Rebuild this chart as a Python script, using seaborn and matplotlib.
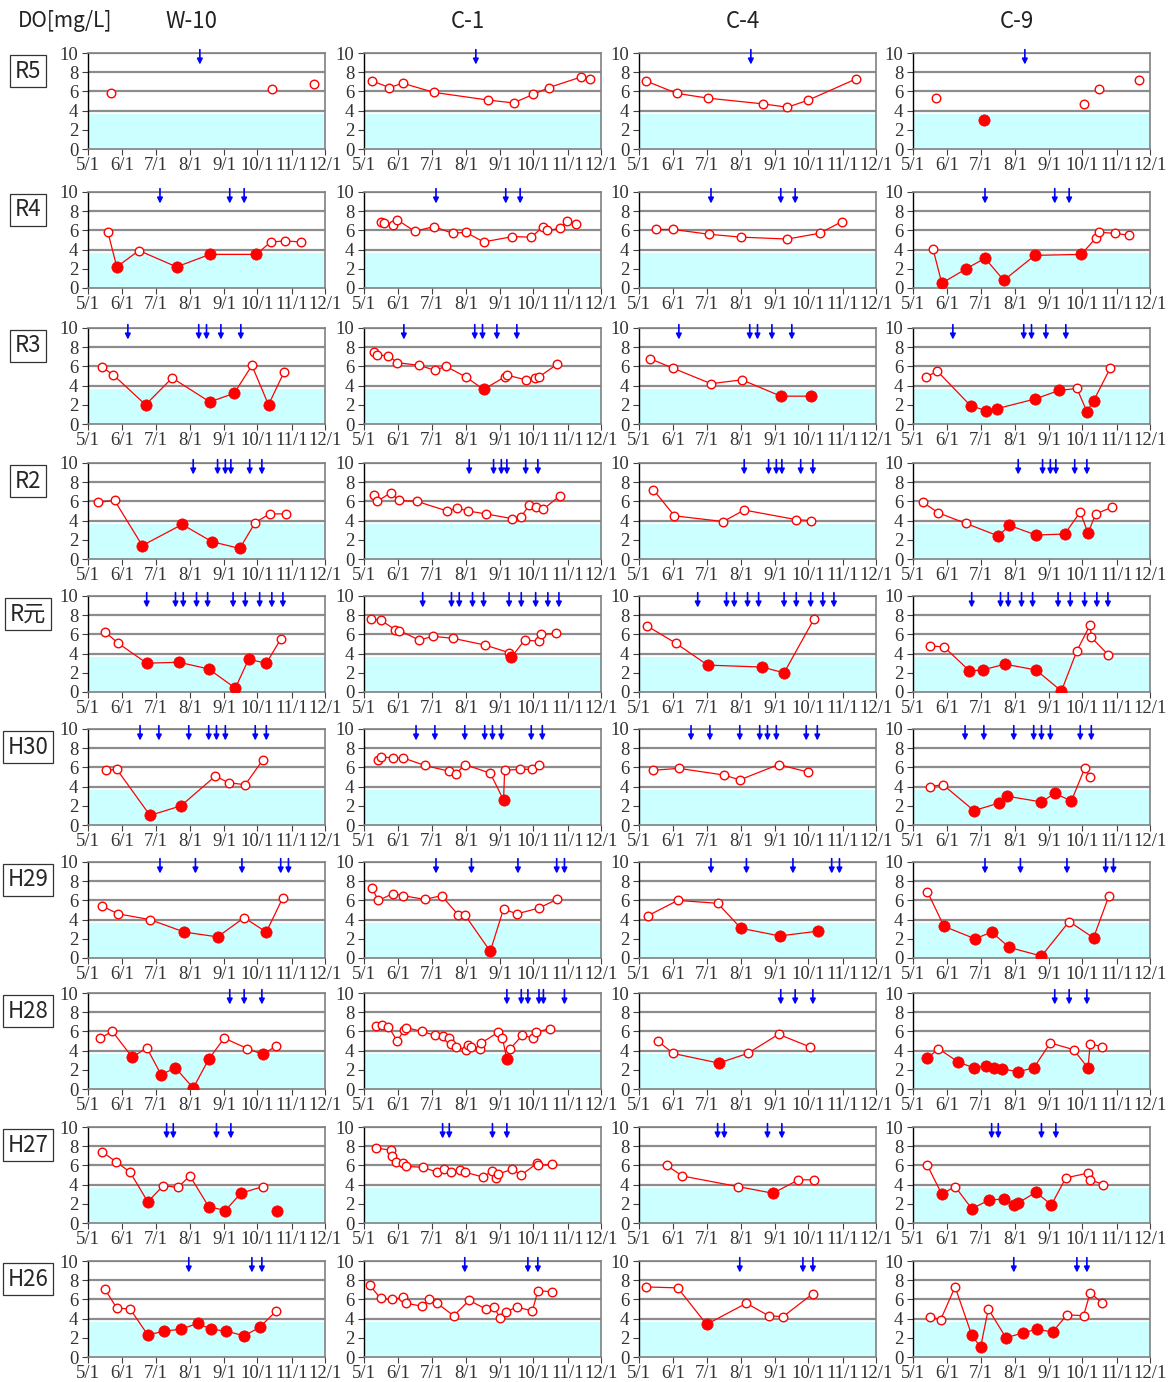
# DO seasonal change by site (W-10, C-1, C-4, C-9) for each survey year
import pandas as pd
import seaborn as sns
import matplotlib.pyplot as plt

# ---- data: sampling dates (M/D) and DO [mg/L]; None = missing (line break) ----
# R5
W10_R5_DATE = ['5/22', '8/1', '10/14', '11/1', '11/21']
W10_R5_DO = [5.8, None, 6.2, None, 6.8]
C1_R5_DATE = ['5/8', '5/24', '6/5', '7/3', '8/21', '9/13', '10/1', '10/15', '11/13', '11/21']
C1_R5_DO = [7.1, 6.4, 6.85, 5.9, 5.1, 4.8, 5.7, 6.4, 7.5, 7.3]
C4_R5_DATE = ['5/7', '6/4', '7/2', '8/21', '9/12', '10/1', '11/13']
C4_R5_DO = [7.1, 5.8, 5.3, 4.7, 4.35, 5.1, 7.3]
C9_R5_DATE = ['5/22', '6/15', '7/4', '8/1', '10/2', '10/9', '10/16', '11/1', '11/21']
C9_R5_DO = [5.3, None, 3.0, None, 4.7, None, 6.3, None, 7.2]
ARROW_R5 = ['8/10']

# R4
W10_R4_DATE = ['5/19', '5/27', '6/16', '7/20', '8/19', '9/30', '10/13', '10/26', '11/9']
W10_R4_DO = [5.8, 2.2, 3.9, 2.2, 3.5, 3.5, 4.8, 4.9, 4.8]
C1_R4_DATE = ['5/16', '5/19', '5/27', '5/31', '6/16', '7/3', '7/20', '8/1', '8/17', '9/12',
              '9/29', '10/10', '10/13', '10/25', '10/31', '11/8']
C1_R4_DO = [6.9, 6.8, 6.6, 7.1, 5.9, 6.4, 5.7, 5.8, 4.8, 5.35, 5.3, 6.4, 6.0, 6.2, 7.0, 6.7]
C4_R4_DATE = ['5/16', '6/1', '7/3', '8/1', '9/12', '10/11', '10/31']
C4_R4_DO = [6.1, 6.1, 5.6, 5.3, 5.1, 5.7, 6.9]
C9_R4_DATE = ['5/19', '5/27', '6/18', '7/5', '7/22', '8/19', '9/30', '10/13', '10/16', '10/30', '11/12']
C9_R4_DO = [4.1, 0.5, 2.0, 3.1, 0.8, 3.4, 3.5, 5.2, 5.8, 5.7, 5.5]
ARROW_R4 = ['7/5', '9/6', '9/19']

# R3
W10_R3_DATE = ['5/14', '5/24', '6/22', '7/16', '8/19', '9/10', '9/26', '10/11', '10/25']
W10_R3_DO = [5.9, 5.1, 2.0, 4.8, 2.3, 3.2, 6.1, 2.0, 5.4]
C1_R3_DATE = ['5/10', '5/13', '5/23', '5/31', '6/20', '7/4', '7/14', '8/1', '8/17', '9/5',
              '9/7', '9/24', '10/2', '10/6', '10/22']
C1_R3_DO = [7.5, 7.2, 7.1, 6.4, 6.1, 5.6, 6.0, 4.9, 3.6, 4.9, 5.1, 4.6, 4.8, 4.9, 6.2]
C4_R3_DATE = ['5/11', '6/1', '7/5', '8/2', '9/6', '10/3']
C4_R3_DO = [6.8, 5.8, 4.2, 4.6, 2.9, 2.9]
C9_R3_DATE = ['5/13', '5/23', '6/22', '7/6', '7/16', '8/19', '9/10', '9/26', '10/5', '10/11', '10/26']
C9_R3_DO = [4.9, 5.5, 1.9, 1.4, 1.6, 2.6, 3.5, 3.7, 1.3, 2.4, 5.8]
ARROW_R3 = ['6/6', '8/9', '8/16', '8/29', '9/16']

# R2
W10_R2_DATE = ['5/10', '5/25', '6/19', '7/25', '8/21', '9/15', '9/29', '10/12', '10/27']
W10_R2_DO = [5.9, 6.1, 1.4, 3.6, 1.8, 1.1, 3.8, 4.7, 4.7]
C1_R2_DATE = ['5/10', '5/13', '5/25', '6/2', '6/18', '7/15', '7/24', '8/3', '8/19', '9/12',
              '9/20', '9/27', '10/3', '10/10', '10/25']
C1_R2_DO = [6.7, 6.0, 6.9, 6.1, 6.0, 5.0, 5.3, 5.0, 4.7, 4.2, 4.4, 5.6, 5.4, 5.2, 6.6]
C4_R2_DATE = ['5/14', '6/2', '7/16', '8/4', '9/20', '10/3']
C4_R2_DO = [7.2, 4.5, 3.9, 5.1, 4.1, 4.0]
C9_R2_DATE = ['5/10', '5/24', '6/18', '7/17', '7/27', '8/20', '9/15', '9/29', '10/6', '10/13', '10/28']
C9_R2_DO = [5.9, 4.8, 3.7, 2.4, 3.5, 2.5, 2.6, 4.9, 2.7, 4.7, 5.4]
ARROW_R2 = ['8/4', '8/26', '9/2', '9/7', '9/24', '10/5']

# R元
W10_R1_DATE = ['5/16', '5/28', '6/23', '7/22', '8/18', '9/11', '9/23', '10/9', '10/22']
W10_R1_DO = [6.3, 5.1, 3.0, 3.1, 2.4, 0.4, 3.4, 3.0, 5.5]
C1_R1_DATE = ['5/7', '5/16', '5/29', '6/2', '6/20', '7/2', '7/20', '8/18', '9/9', '9/11',
              '9/23', '10/6', '10/8', '10/21']
C1_R1_DO = [7.6, 7.5, 6.5, 6.4, 5.4, 5.8, 5.6, 4.9, 4.1, 3.6, 5.4, 5.3, 6.0, 6.1]
C4_R1_DATE = ['5/8', '6/3', '7/2', '8/20', '9/9', '10/6']
C4_R1_DO = [6.9, 5.1, 2.8, 2.6, 2.0, 7.6]
C9_R1_DATE = ['5/16', '5/29', '6/21', '7/3', '7/23', '8/20', '9/12', '9/26', '10/8', '10/9', '10/24']
C9_R1_DO = [4.8, 4.7, 2.2, 2.3, 2.9, 2.3, 0.1, 4.3, 7.0, 5.7, 3.9]
ARROW_R1 = ['6/23', '7/19', '7/26', '8/7', '8/17', '9/9', '9/20', '10/3', '10/14', '10/24']

# H30
W10_H30_DATE = ['5/17', '5/27', '6/26', '7/24', '8/24', '9/5', '9/20', '10/6']
W10_H30_DO = [5.7, 5.8, 1.0, 2.0, 5.1, 4.4, 4.2, 6.8]
C1_H30_DATE = ['5/14', '5/16', '5/27', '6/5', '6/25', '7/17', '7/23', '7/31', '8/23', '9/4',
               '9/5', '9/19', '9/30', '10/6']
C1_H30_DO = [6.8, 7.1, 7.0, 7.0, 6.2, 5.6, 5.3, 6.3, 5.4, 2.6, 5.7, 5.8, 5.8, 6.2]
C4_H30_DATE = ['5/14', '6/6', '7/17', '7/31', '9/4', '10/1']
C4_H30_DO = [5.7, 5.9, 5.2, 4.7, 6.3, 5.5]
C9_H30_DATE = ['5/16', '5/28', '6/25', '7/18', '7/25', '8/25', '9/6', '9/21', '10/3', '10/8']
C9_H30_DO = [4.0, 4.2, 1.5, 2.3, 3.0, 2.4, 3.3, 2.5, 5.9, 5.0]
ARROW_H30 = ['6/17', '7/4', '7/31', '8/18', '8/25', '9/2', '9/29', '10/9']

# H29
W10_H29_DATE = ['5/14', '5/28', '6/26', '7/27', '8/26', '9/19', '10/9', '10/24']
W10_H29_DO = [5.4, 4.6, 4.0, 2.7, 2.2, 4.2, 2.7, 6.3]
C1_H29_DATE = ['5/8', '5/14', '5/27', '6/5', '6/25', '7/10', '7/25', '7/31', '8/23', '9/4',
               '9/16', '10/6', '10/22']
C1_H29_DO = [7.3, 6.0, 6.7, 6.5, 6.1, 6.5, 4.5, 4.5, 0.7, 5.1, 4.6, 5.2, 6.1]
C4_H29_DATE = ['5/9', '6/5', '7/11', '8/1', '9/5', '10/10']
C4_H29_DO = [4.4, 6.0, 5.7, 3.1, 2.3, 2.8]
C9_H29_DATE = ['5/14', '5/29', '6/26', '7/11', '7/27', '8/25', '9/19', '10/11', '10/25']
C9_H29_DO = [6.9, 3.3, 2.0, 2.7, 1.1, 0.2, 3.8, 2.1, 6.5]
ARROW_H29 = ['7/5', '8/6', '9/17', '10/22', '10/29']

# H28
W10_H28_DATE = ['5/12', '5/23', '6/10', '6/23', '7/6', '7/19', '8/4', '8/18', '9/1', '9/22',
                '10/6', '10/18']
W10_H28_DO = [5.3, 6.0, 3.3, 4.3, 1.5, 2.2, 0.1, 3.1, 5.3, 4.2, 3.6, 4.5]
C1_H28_DATE = ['5/12', '5/17', '5/23', '5/31', '6/6', '6/8', '6/22', '7/4', '7/11', '7/17',
               '7/19', '7/23', '8/1', '8/3', '8/6', '8/14', '8/15', '8/30', '9/3', '9/7',
               '9/10', '9/21', '10/1', '10/3', '10/16']
C1_H28_DO = [6.6, 6.7, 6.5, 5.0, 6.1, 6.4, 6.0, 5.6, 5.5, 5.3, 4.7, 4.4, 4.1, 4.6, 4.4,
             4.2, 4.8, 5.9, 5.3, 3.1, 4.2, 5.6, 5.3, 5.9, 6.3]
C4_H28_DATE = ['5/18', '6/1', '7/12', '8/7', '9/4', '10/2']
C4_H28_DO = [5.0, 3.7, 2.7, 3.7, 5.7, 4.4]
C9_H28_DATE = ['5/14', '5/24', '6/11', '6/25', '7/6', '7/13', '7/20', '8/4', '8/18', '9/2',
               '9/23', '10/6', '10/8', '10/19']
C9_H28_DO = [3.2, 4.2, 2.8, 2.2, 2.4, 2.2, 2.1, 1.8, 2.2, 4.8, 4.1, 2.2, 4.7, 4.4]
ARROW_H28 = ['9/6', '9/19', '10/5']
ARROW_H28_C1 = ['9/7', '9/20', '9/26', '10/6', '10/10', '10/29']

# H27
W10_H27_DATE = ['5/14', '5/26', '6/8', '6/24', '7/8', '7/21', '8/1', '8/18', '9/2', '9/16',
                '10/6', '10/12', '10/19']
W10_H27_DO = [7.4, 6.4, 5.3, 2.2, 3.9, 3.7, 4.9, 1.7, 1.3, 3.1, 3.8, None, 1.3]
C1_H27_DATE = ['5/12', '5/25', '5/26', '5/30', '6/5', '6/8', '6/23', '7/6', '7/12', '7/19',
               '7/27', '7/31', '8/16', '8/25', '8/28', '8/30', '9/12', '9/20', '10/4', '10/5',
               '10/18']
C1_H27_DO = [7.8, 7.6, 7.0, 6.4, 6.2, 5.9, 5.8, 5.3, 5.6, 5.3, 5.5, 5.3, 4.8, 5.4, 4.7,
             5.1, 5.6, 5.0, 6.2, 6.0, 6.1]
C4_H27_DATE = ['5/26', '6/9', '7/29', '8/30', '9/22', '10/6']
C4_H27_DO = [6.0, 4.9, 3.8, 3.1, 4.5, 4.5]
C9_H27_DATE = ['5/14', '5/27', '6/8', '6/23', '7/9', '7/22', '7/31', '8/4', '8/20', '9/3',
               '9/16', '10/6', '10/8', '10/20']
C9_H27_DO = [6.0, 3.0, 3.8, 1.5, 2.4, 2.5, 1.9, 2.1, 3.2, 1.9, 4.7, 5.2, 4.5, 4.0]
ARROW_H27 = ['7/11', '7/17', '8/25', '9/7']

# H26
W10_H26_DATE = ['5/16', '5/27', '6/8', '6/24', '7/9', '7/24', '8/8', '8/20', '9/3', '9/19',
                '10/3', '10/18']
W10_H26_DO = [7.1, 5.1, 5.0, 2.3, 2.7, 2.9, 3.5, 2.9, 2.7, 2.2, 3.1, 4.8]
C1_H26_DATE = ['5/6', '5/16', '5/26', '6/5', '6/8', '6/22', '6/29', '7/6', '7/21', '8/4',
               '8/19', '8/26', '9/1', '9/6', '9/16', '9/30', '10/5', '10/18']
C1_H26_DO = [7.5, 6.1, 6.0, 6.2, 5.6, 5.3, 6.0, 5.6, 4.3, 5.9, 5.0, 5.2, 4.1, 4.7, 5.2,
             4.8, 6.9, 6.8]
C4_H26_DATE = ['5/7', '6/5', '7/1', '8/6', '8/26', '9/8', '10/5']
C4_H26_DO = [7.3, 7.2, 3.4, 5.6, 4.3, 4.2, 6.6]
C9_H26_DATE = ['5/16', '5/26', '6/8', '6/23', '7/1', '7/8', '7/24', '8/8', '8/21', '9/4',
               '9/17', '10/2', '10/8', '10/19']
C9_H26_DO = [4.2, 3.9, 7.3, 2.3, 1.0, 5.0, 2.0, 2.5, 2.9, 2.6, 4.4, 4.3, 6.7, 5.6]
ARROW_H26 = ['7/31', '9/26', '10/5']

YEARS = ['R5', 'R4', 'R3', 'R2', 'R元', 'H30', 'H29', 'H28', 'H27', 'H26']
SITES = ['W-10', 'C-1', 'C-4', 'C-9']
MONTHS = ['5/1', '6/1', '7/1', '8/1', '9/1', '10/1', '11/1', '12/1']
LIMIT = 3.65  # shaded low-DO band / filled marker threshold

# build lookups from the lists above
g = globals()
year_keys = ['R5', 'R4', 'R3', 'R2', 'R1', 'H30', 'H29', 'H28', 'H27', 'H26']
site_keys = ['W10', 'C1', 'C4', 'C9']


def days(s):
    return (pd.to_datetime('2023/' + s, format='%Y/%m/%d') - pd.Timestamp('2023-05-01')).days


sns.set_theme(style='white')
plt.rcParams['font.family'] = ['Noto Sans CJK JP', 'DejaVu Sans']

fig = plt.figure(figsize=(11.76, 13.82), dpi=100)
W, H = 1176, 1382

# layout in pixels
col_left = [88, 364, 639, 913]
col_w = 237
row_top = [53, 192, 328, 463, 596, 729, 862, 993, 1127, 1261]
row_h = 96

for r, (yk, year) in enumerate(zip(year_keys, YEARS)):
    for c, (sk, site) in enumerate(zip(site_keys, SITES)):
        ax = fig.add_axes([col_left[c] / W, 1 - (row_top[r] + row_h) / H, col_w / W, row_h / H])

        df = pd.DataFrame({'day': [days(d) for d in g[f'{sk}_{yk}_DATE']],
                           'do': g[f'{sk}_{yk}_DO']}).astype({'do': float})
        df['seg'] = df['do'].isna().cumsum()
        df = df.dropna()
        df['low'] = df['do'] < LIMIT

        # low DO band
        ax.axhspan(0, LIMIT, color='#ccffff', lw=0, zorder=1)

        sns.lineplot(data=df, x='day', y='do', units='seg', estimator=None, sort=False,
                     color='red', lw=0.9, ax=ax, legend=False, zorder=2)
        sns.scatterplot(data=df[~df['low']], x='day', y='do', color='white', edgecolor='red',
                        linewidth=1.0, s=38, ax=ax, legend=False, zorder=3)
        sns.scatterplot(data=df[df['low']], x='day', y='do', color='red', edgecolor='red',
                        linewidth=0.5, s=66, ax=ax, legend=False, zorder=3)

        # rain event arrows
        arrows = g.get(f'ARROW_{yk}_{sk}', g[f'ARROW_{yk}'])
        for d in arrows:
            ax.annotate('', xy=(days(d), 8.8), xytext=(days(d), 10.35),
                        arrowprops=dict(arrowstyle='-|>', color='#0000ff', lw=1.2,
                                        mutation_scale=8, shrinkA=0, shrinkB=0),
                        annotation_clip=False, zorder=4)

        ax.set_xlim(0, days('12/1'))
        ax.set_ylim(0, 10)
        ax.set_xticks([days(m) for m in MONTHS])
        ax.set_xticklabels(MONTHS)
        ax.set_yticks(range(0, 11, 2))
        ax.set_xlabel('')
        ax.set_ylabel('')
        ax.set_axisbelow(True)
        ax.yaxis.grid(True, color='#8c8c8c', lw=1.6)
        ax.xaxis.grid(False)
        for side in ['top', 'right', 'bottom']:
            ax.spines[side].set_color('#808080')
            ax.spines[side].set_linewidth(1.2)
        ax.spines['left'].set_color('black')
        ax.spines['left'].set_linewidth(1.0)
        ax.tick_params(axis='both', direction='out', length=4, width=0.8, color='#404040',
                       labelsize=13.5, bottom=True, left=True)
        ax.tick_params(axis='x', pad=2)
        ax.tick_params(axis='y', pad=3)
        for lbl in ax.get_xticklabels() + ax.get_yticklabels():
            lbl.set_fontfamily('Liberation Serif')
            lbl.set_color('#333333')

    # year label box
    fig.text(28 / W, 1 - (row_top[r] + 18) / H, year, ha='center', va='center', fontsize=16,
             bbox=dict(boxstyle='square,pad=0.22', fc='white', ec='#333333', lw=0.9))

# site titles
for c, site in enumerate(SITES):
    fig.text((col_left[c] + col_w / 2 - 15) / W, 1 - 22 / H, site, ha='center', va='center',
             fontsize=16, color='#222222')
fig.text(65 / W, 1 - 21 / H, 'DO[mg/L]', ha='center', va='center', fontsize=15, color='#222222')

fig.savefig('out.png', dpi=100)
